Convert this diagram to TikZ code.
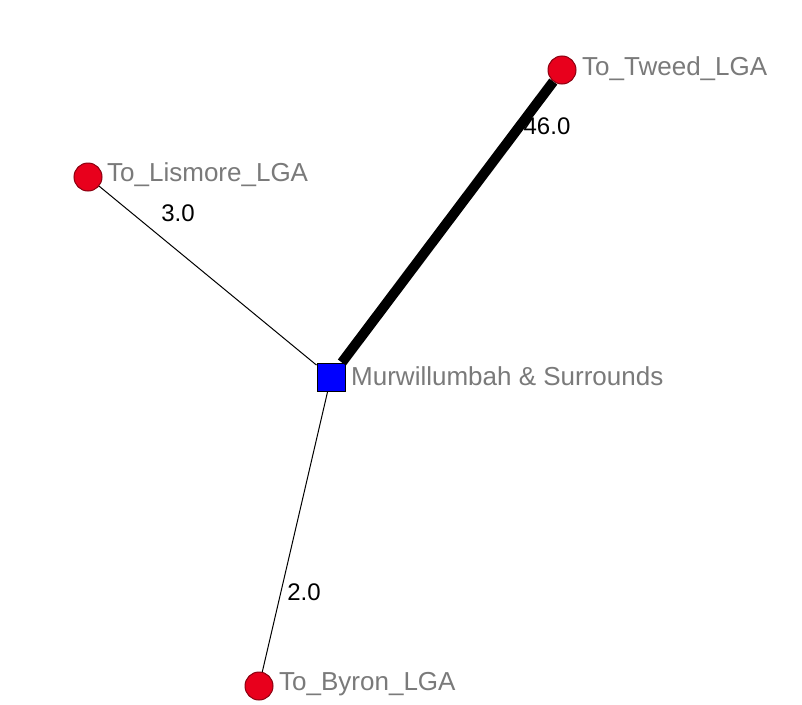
\documentclass[tikz,border=0pt]{standalone}
\usepackage{fontspec}
\setmainfont{Liberation Sans}
\definecolor{nodered}{HTML}{E8001C}
\definecolor{darkred}{HTML}{8A0010}
\definecolor{labgray}{HTML}{7A7A7A}
\begin{document}
\begin{tikzpicture}[x=1pt,y=-1pt,
  place/.style={circle,fill=nodered,draw=darkred,line width=1pt,minimum size=28pt,inner sep=0pt},
  hub/.style={rectangle,fill=blue,draw=black,line width=1pt,minimum size=28pt,inner sep=0pt},
  nlabel/.style={anchor=west,inner sep=0pt,text=labgray,font=\fontsize{26}{26}\selectfont},
  elabel/.style={inner sep=0pt,text=black,font=\fontsize{24}{24}\selectfont},
  link/.style={draw=black,line width=1pt}]
\useasboundingbox (0,0) rectangle (802,704);
\fill[white] (0,0) rectangle (802,704);
\node[hub] (m) at (331,377) {};
\node[place] (t) at (562,70) {};
\node[place] (l) at (88,177) {};
\node[place] (b) at (259,686) {};
\draw[link] (m) -- (l);
\draw[link] (m) -- (b);
\node[elabel] (e46) at (547,126) {46.0};
\draw[link,line width=10pt] (m) -- (t);
\node[elabel] (e3) at (178,213) {3.0};
\node[elabel] (e2) at (304,592) {2.0};
\node[nlabel] (tl) at (582,69) {To\_Tweed\_LGA};
\node[nlabel] (ll) at (107,175) {To\_Lismore\_LGA};
\node[nlabel] (ml) at (351,376) {Murwillumbah \& Surrounds};
\node[nlabel] (bl) at (279,684) {To\_Byron\_LGA};
\end{tikzpicture}
\end{document}
